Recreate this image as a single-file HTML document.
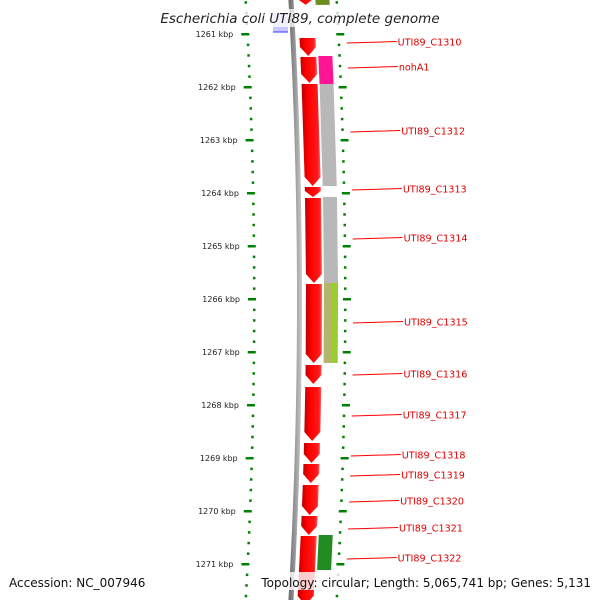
<!DOCTYPE html>
<html><head><meta charset="utf-8"><style>
body{margin:0;background:#fff;width:600px;height:600px;overflow:hidden}
svg{display:block}
text{font-family:"DejaVu Sans","Liberation Sans",sans-serif}
</style></head><body>
<svg id="map" width="600" height="600" viewBox="0 0 600 600" xmlns="http://www.w3.org/2000/svg">
<defs>
<linearGradient id="gRed" x1="0" x2="1"><stop offset="0" stop-color="#c00000"/><stop offset="0.35" stop-color="#ff0000"/><stop offset="0.85" stop-color="#ff1a1a"/><stop offset="1" stop-color="#ff6060"/></linearGradient>
<linearGradient id="gBack" x1="0" x2="1"><stop offset="0" stop-color="#666"/><stop offset="0.5" stop-color="#999"/><stop offset="1" stop-color="#ccc"/></linearGradient>
</defs>
<g id="layer"></g>
</svg>
<script>
const tickKbp=[1261,1262,1263,1264,1265,1266,1267,1268,1269,1270,1271];
const geneStart=[1260.26,1261.075,1261.434,1261.943,1263.887,1264.094,1265.717,1267.245,1267.660,1268.717,1269.113,1269.509,1270.094,1270.472];
const geneEnd=  [1260.45,1261.415,1261.925,1263.868,1264.075,1265.698,1267.208,1267.604,1268.679,1269.094,1269.472,1270.075,1270.453,1271.774];
const lane2Start=[1260.26,1261.415,1261.943,1264.075,1265.698,1270.453];
const lane2End=  [1260.45,1261.943,1263.868,1265.698,1267.208,1271.113];
const lane2Color=["#6b8e23","#ff1493","#b8b8b8","#b8b8b8","#b5b56a","#228b22"];
const labelText=["UTI89_C1310","nohA1","UTI89_C1312","UTI89_C1313","UTI89_C1314","UTI89_C1315","UTI89_C1316","UTI89_C1317","UTI89_C1318","UTI89_C1319","UTI89_C1320","UTI89_C1321","UTI89_C1322"];
const labelKbp=[1261.151,1261.623,1262.830,1263.925,1264.849,1266.434,1267.415,1268.189,1268.943,1269.321,1269.811,1270.321,1270.887];

const NS="http://www.w3.org/2000/svg";
const g=document.getElementById('layer');
const y=k=>34+(k-1261)*53;
const bend=yy=>-9.5e-5*(yy-300)*(yy-300);
function mk(tag,attrs,parent){const e=document.createElementNS(NS,tag);for(const a in attrs)e.setAttribute(a,attrs[a]);(parent||g).appendChild(e);return e;}

const bb=[];for(let yy=-5;yy<=605;yy+=10)bb.push((297+bend(yy))+','+yy);
const bbr=[];for(let yy=605;yy>=-5;yy-=10)bbr.push((302+bend(yy))+','+yy);
let e=mk('polygon',{points:bb.concat(bbr).join(' '),fill:'url(#gBack)'});



e=mk('rect',{x:273,y:13,width:15,height:19,fill:'#c8c8ff'});


mk('line',{x1:273,y1:32,x2:288,y2:32,stroke:'#3333ff','stroke-width':1});

for(let k=1260.2;k<=1271.81;k+=0.2){
  const yy=y(k);const major=Math.abs(k-Math.round(k))<0.01;
  const xl=254+bend(yy), xr=345+bend(yy);
  e=mk('rect',{x:major?xl-6:xl-1,y:yy-1,width:major?8:2.5,height:2.5,fill:'#008000'});
  
  
  e=mk('rect',{x:major?xr-2:xr-1,y:yy-1,width:major?8:2.5,height:2.5,fill:'#008000'});
  
  
}
tickKbp.forEach(k=>{
  const yy=y(k);
  const t=mk('text',{x:240+bend(yy),y:yy+3,'font-size':8,'text-anchor':'end',fill:'#222'});
  t.textContent=k+' kbp';
  
  
});

function arrow(s,en,x0,w,fill,head){
  const y0=y(s),y1=y(en);const h=Math.min(head,(y1-y0)*0.6);
  const b0=bend(y0),b1=bend(y1),bm=bend(y1-h);
  const p=[[x0+b0,y0],[x0+w+b0,y0],[x0+w+bm,y1-h],[x0+w/2+b1,y1],[x0+bm,y1-h]];
  return mk('polygon',{points:p.map(q=>q.join(',')).join(' '),fill:fill});
}
for(let i=0;i<geneStart.length;i++){
  e=arrow(geneStart[i],geneEnd[i],306,16,'url(#gRed)',9);
  
  
}
for(let i=0;i<lane2Start.length;i++){
  const y0=y(lane2Start[i]),y1=y(lane2End[i]);
  const p=[[324+bend(y0),y0],[338+bend(y0),y0],[338+bend(y1),y1],[324+bend(y1),y1]];
  e=mk('polygon',{points:p.map(q=>q.join(',')).join(' '),fill:lane2Color[i]});
  
  
  if(i===4){
    const q=[[332+bend(y0),y0],[338+bend(y0),y0],[338+bend(y1),y1],[332+bend(y1),y1]];
    mk('polygon',{points:q.map(r=>r.join(',')).join(' '),fill:'#9acd32'});
  }
}

for(let i=0;i<labelText.length;i++){
  const yy=y(labelKbp[i]);const b=bend(yy);
  e=mk('line',{x1:353+b,y1:yy+1,x2:403+b,y2:yy-0.5,stroke:'#ff0000','stroke-width':1});
  
  
  const t=mk('text',{x:404+b,y:yy+3.5,'font-size':9.6,fill:'#e00000'});
  t.textContent=labelText[i];
  
  
}

e=mk('rect',{x:155,y:9,width:290,height:18,fill:'#fff','fill-opacity':0.75});
let t=mk('text',{x:300,y:23,'font-size':13.5,'font-style':'italic','text-anchor':'middle',fill:'#222'});
t.textContent='Escherichia coli UTI89, complete genome';


mk('rect',{x:5,y:572,width:140,height:18,fill:'#fff','fill-opacity':0.8});
mk('rect',{x:258,y:572,width:338,height:18,fill:'#fff','fill-opacity':0.8});
t=mk('text',{x:9,y:587,'font-size':12,fill:'#111'});
t.textContent='Accession: NC_007946';


t=mk('text',{x:591,y:587,'font-size':12,'text-anchor':'end',fill:'#111'});
t.textContent='Topology: circular; Length: 5,065,741 bp; Genes: 5,131';


</script>
</body></html>
